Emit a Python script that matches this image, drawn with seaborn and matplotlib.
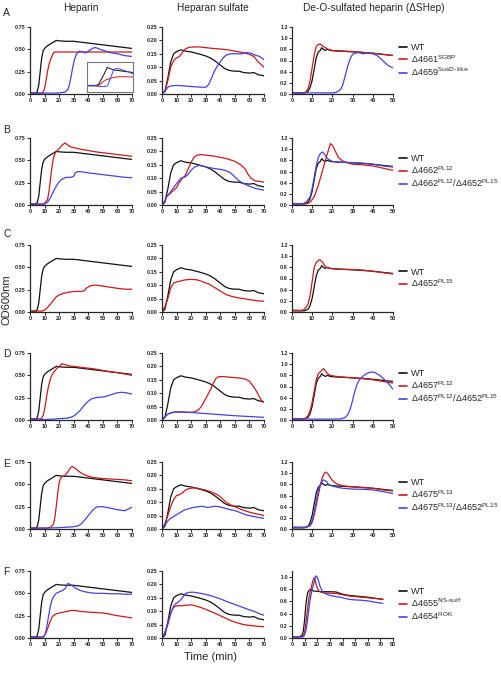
import matplotlib
matplotlib.use("Agg")
import matplotlib.pyplot as plt
import pandas as pd
import seaborn as sns
from matplotlib.ticker import FormatStrFormatter

sns.set_style("ticks")
plt.rcParams["font.family"] = ["Liberation Sans", "DejaVu Sans"]
plt.rcParams["mathtext.default"] = "regular"

# ---- data: (time in min, OD600) ----
# wild type curves, shared by rows A-E
wt_hep = [(0, 0.01), (4, 0.01), (5, 0.03), (6, 0.1), (7, 0.25), (8, 0.4), (9, 0.48), (10, 0.51), (12, 0.54),
          (14, 0.56), (16, 0.58), (18, 0.6), (20, 0.595), (25, 0.59), (30, 0.59), (35, 0.58), (40, 0.57),
          (45, 0.56), (50, 0.55), (55, 0.54), (60, 0.53), (65, 0.52), (70, 0.51)]
wt_hs = [(0, 0.0), (2, 0.01), (4, 0.06), (6, 0.12), (8, 0.15), (10, 0.158), (13, 0.165), (16, 0.16), (20, 0.157),
         (25, 0.15), (30, 0.142), (33, 0.135), (36, 0.125), (40, 0.108), (43, 0.095), (46, 0.088), (50, 0.085),
         (53, 0.085), (56, 0.08), (60, 0.078), (63, 0.08), (66, 0.072), (70, 0.068)]
wt_ds = [(0, 0.02), (6, 0.02), (8, 0.05), (9, 0.12), (10, 0.25), (11, 0.45), (12, 0.65), (13, 0.75), (14, 0.78),
         (14.7, 0.83), (15.5, 0.8), (16.5, 0.78), (17.5, 0.8), (19, 0.78), (22, 0.77), (25, 0.765), (30, 0.755),
         (35, 0.745), (40, 0.73), (45, 0.71), (50, 0.69)]
wt_ds_f = [(0, 0.02), (6, 0.02), (8, 0.05), (9, 0.12), (10, 0.3), (11, 0.55), (12, 0.7), (12.5, 0.75), (13.5, 0.78),
           (14.5, 0.8), (16, 0.78), (18, 0.77), (20, 0.765), (25, 0.76), (30, 0.76), (35, 0.755), (40, 0.72),
           (45, 0.7), (50, 0.69), (55, 0.68), (60, 0.67), (65, 0.655), (70, 0.64), (72, 0.635)]

# row A
a_hep_4661 = [(0, 0.01), (8, 0.01), (9, 0.02), (10, 0.06), (11, 0.15), (12, 0.25), (13, 0.33), (14, 0.38), (15, 0.42),
              (16, 0.46), (17, 0.47), (20, 0.47), (30, 0.47), (40, 0.47), (50, 0.47), (60, 0.47), (70, 0.47)]
a_hep_4659 = [(0, 0.01), (18, 0.01), (24, 0.02), (26, 0.05), (27, 0.1), (28, 0.18), (29, 0.27), (30, 0.35),
              (31, 0.41), (32, 0.45), (34, 0.48), (36, 0.47), (38, 0.46), (40, 0.48), (42, 0.5), (44, 0.52),
              (46, 0.515), (48, 0.5), (52, 0.48), (56, 0.46), (60, 0.45), (65, 0.43), (70, 0.42)]
a_hs_4661 = [(0, 0.0), (2, 0.01), (4, 0.05), (6, 0.1), (8, 0.125), (10, 0.135), (12, 0.14), (14, 0.155), (16, 0.168),
             (18, 0.173), (20, 0.175), (25, 0.176), (30, 0.173), (35, 0.17), (40, 0.168), (45, 0.165), (50, 0.16),
             (55, 0.155), (60, 0.148), (63, 0.14), (66, 0.12), (70, 0.1)]
a_hs_4659 = [(0, 0.0), (2, 0.01), (4, 0.025), (6, 0.03), (10, 0.032), (15, 0.03), (20, 0.028), (25, 0.026),
             (30, 0.025), (32, 0.035), (34, 0.06), (36, 0.085), (38, 0.105), (40, 0.12), (42, 0.135), (44, 0.145),
             (47, 0.15), (50, 0.15), (55, 0.15), (58, 0.155), (61, 0.152), (64, 0.145), (67, 0.14), (70, 0.128)]
a_ds_4661 = [(0, 0.02), (6, 0.02), (7, 0.04), (8, 0.1), (9, 0.25), (10, 0.48), (11, 0.7), (12, 0.85), (13, 0.89),
             (14, 0.89), (15, 0.87), (16, 0.84), (17, 0.82), (18, 0.8), (20, 0.78), (25, 0.77), (30, 0.76),
             (35, 0.745), (40, 0.73), (45, 0.71), (50, 0.69)]
a_ds_4659 = [(0, 0.02), (20, 0.02), (22, 0.03), (24, 0.08), (25, 0.15), (26, 0.28), (27, 0.42), (28, 0.55),
             (29, 0.65), (30, 0.71), (31, 0.73), (33, 0.74), (35, 0.72), (37, 0.73), (40, 0.72), (42, 0.69),
             (44, 0.63), (46, 0.56), (48, 0.5), (50, 0.47)]
# inset in panel A (arbitrary units)
inset_wt = [(0, 0.22), (20, 0.22), (25, 0.25), (32, 0.45), (38, 0.62), (44, 0.82), (50, 0.78), (60, 0.73),
            (70, 0.71), (80, 0.69), (90, 0.67), (100, 0.65)]
inset_4661 = [(0, 0.2), (20, 0.2), (25, 0.21), (32, 0.3), (40, 0.4), (50, 0.45), (60, 0.49), (70, 0.51),
              (80, 0.51), (100, 0.5)]
inset_4659 = [(0, 0.22), (15, 0.22), (22, 0.2), (30, 0.18), (40, 0.18), (45, 0.22), (52, 0.5), (58, 0.75),
              (64, 0.79), (72, 0.76), (80, 0.72), (90, 0.67), (100, 0.6)]

# row B
b_hep_4662 = [(0, 0.01), (9, 0.01), (10, 0.02), (12, 0.06), (13, 0.15), (14, 0.28), (15, 0.42), (16, 0.52),
              (17, 0.57), (18, 0.6), (20, 0.63), (22, 0.67), (24, 0.695), (26, 0.67), (28, 0.65), (32, 0.635),
              (36, 0.62), (40, 0.61), (45, 0.595), (50, 0.585), (55, 0.575), (60, 0.565), (65, 0.555), (70, 0.545)]
b_hep_dbl = [(0, 0.01), (10, 0.01), (12, 0.03), (14, 0.08), (16, 0.15), (18, 0.21), (20, 0.26), (22, 0.29),
             (25, 0.31), (28, 0.31), (30, 0.32), (31, 0.36), (33, 0.375), (36, 0.37), (40, 0.36), (45, 0.35),
             (50, 0.34), (55, 0.33), (60, 0.32), (65, 0.31), (70, 0.305)]
b_hs_4662 = [(0, 0.0), (2, 0.015), (3, 0.03), (5, 0.04), (8, 0.055), (10, 0.065), (12, 0.085), (14, 0.1), (16, 0.11),
             (18, 0.135), (20, 0.16), (22, 0.178), (24, 0.186), (27, 0.188), (30, 0.186), (35, 0.183), (40, 0.178),
             (45, 0.172), (50, 0.163), (54, 0.15), (57, 0.135), (59, 0.115), (61, 0.1), (64, 0.09), (67, 0.088),
             (70, 0.085)]
b_hs_dbl = [(0, 0.0), (2, 0.015), (3, 0.03), (6, 0.05), (10, 0.08), (13, 0.1), (16, 0.105), (18, 0.115), (20, 0.13),
            (22, 0.14), (25, 0.148), (28, 0.145), (32, 0.14), (36, 0.136), (40, 0.133), (44, 0.128), (47, 0.12),
            (50, 0.105), (53, 0.09), (56, 0.08), (60, 0.07), (64, 0.062), (70, 0.055)]
b_ds_4662 = [(0, 0.02), (7, 0.02), (9, 0.05), (11, 0.15), (13, 0.35), (15, 0.6), (16.5, 0.8), (18, 0.98), (19, 1.1),
             (20, 1.07), (21, 1.0), (22, 0.92), (23, 0.85), (25, 0.79), (27, 0.76), (30, 0.73), (35, 0.72),
             (40, 0.7), (45, 0.66), (50, 0.62)]
b_ds_dbl = [(0, 0.02), (5, 0.02), (7, 0.05), (9, 0.15), (10, 0.3), (11, 0.5), (12, 0.7), (13, 0.85), (14, 0.92),
            (15, 0.95), (16, 0.92), (17, 0.86), (18, 0.82), (20, 0.78), (25, 0.765), (30, 0.76), (35, 0.75),
            (40, 0.73), (45, 0.7), (50, 0.68)]

# row C
c_hep_4652 = [(0, 0.01), (8, 0.01), (10, 0.02), (12, 0.05), (14, 0.09), (16, 0.13), (18, 0.17), (20, 0.19),
              (23, 0.21), (26, 0.22), (30, 0.23), (35, 0.23), (37, 0.235), (39, 0.27), (41, 0.29), (43, 0.3),
              (46, 0.3), (50, 0.29), (54, 0.28), (58, 0.27), (62, 0.26), (66, 0.255), (70, 0.255)]
c_hs_4652 = [(0, 0.0), (2, 0.02), (4, 0.05), (6, 0.09), (8, 0.108), (10, 0.112), (13, 0.116), (16, 0.12),
             (20, 0.122), (24, 0.12), (27, 0.115), (30, 0.108), (32, 0.105), (35, 0.095), (38, 0.085), (41, 0.075),
             (44, 0.065), (48, 0.058), (52, 0.053), (56, 0.05), (60, 0.046), (65, 0.042), (70, 0.04)]
c_ds_4652 = [(0, 0.03), (5, 0.03), (6, 0.05), (7, 0.08), (8, 0.15), (9, 0.3), (10, 0.55), (11, 0.8), (12, 0.89),
             (13, 0.92), (13.7, 0.94), (15, 0.9), (16, 0.84), (17, 0.8), (19, 0.78), (22, 0.77), (25, 0.765),
             (30, 0.76), (35, 0.75), (40, 0.73), (45, 0.705), (50, 0.68)]

# row D
d_hep_4657 = [(0, 0.01), (7, 0.01), (8, 0.02), (9, 0.05), (10, 0.12), (11, 0.22), (12, 0.32), (13, 0.4), (14, 0.46),
              (15, 0.5), (16, 0.53), (18, 0.57), (20, 0.6), (22, 0.63), (24, 0.62), (27, 0.605), (30, 0.6),
              (35, 0.59), (40, 0.58), (45, 0.57), (50, 0.555), (55, 0.54), (60, 0.53), (65, 0.515), (70, 0.5)]
d_hep_dbl = [(0, 0.01), (5, 0.01), (10, 0.005), (15, 0.008), (20, 0.015), (25, 0.02), (28, 0.03), (30, 0.045),
             (32, 0.07), (34, 0.1), (36, 0.14), (38, 0.18), (40, 0.21), (42, 0.235), (45, 0.25), (48, 0.255),
             (51, 0.26), (54, 0.275), (57, 0.29), (60, 0.305), (63, 0.31), (66, 0.305), (70, 0.29)]
d_hs_4657 = [(0, 0.0), (2, 0.012), (4, 0.022), (7, 0.028), (10, 0.03), (14, 0.03), (18, 0.028), (22, 0.03),
             (25, 0.038), (27, 0.05), (29, 0.07), (31, 0.09), (33, 0.11), (35, 0.135), (37, 0.155), (39, 0.162),
             (42, 0.162), (46, 0.16), (50, 0.158), (54, 0.156), (57, 0.153), (60, 0.145), (62, 0.13), (64, 0.115),
             (66, 0.095), (68, 0.075), (70, 0.065)]
d_hs_dbl = [(0, 0.0), (2, 0.012), (4, 0.022), (7, 0.028), (10, 0.03), (15, 0.03), (20, 0.028), (30, 0.024),
            (40, 0.02), (50, 0.016), (60, 0.013), (70, 0.01)]
d_ds_4657 = [(0, 0.02), (6, 0.02), (7, 0.04), (8, 0.08), (9, 0.17), (10, 0.32), (11, 0.52), (12, 0.72), (13, 0.83),
             (14, 0.86), (15, 0.9), (15.7, 0.92), (16.5, 0.88), (17.5, 0.83), (19, 0.8), (22, 0.78), (25, 0.77),
             (30, 0.755), (35, 0.74), (40, 0.72), (45, 0.69), (50, 0.66)]
d_ds_dbl = [(0, 0.02), (10, 0.015), (20, 0.015), (24, 0.02), (26, 0.04), (27, 0.07), (28, 0.12), (29, 0.22),
            (30, 0.35), (31, 0.5), (32, 0.62), (33, 0.7), (34, 0.75), (36, 0.81), (38, 0.85), (39.5, 0.86),
            (41, 0.85), (43, 0.81), (45, 0.75), (47, 0.68), (49, 0.6), (50, 0.55)]

# row E
e_hep_4675 = [(0, 0.01), (12, 0.01), (14, 0.02), (16, 0.05), (17, 0.12), (18, 0.25), (19, 0.4), (20, 0.52),
              (21, 0.57), (22, 0.585), (24, 0.6), (26, 0.64), (28, 0.69), (29, 0.7), (31, 0.68), (34, 0.64),
              (37, 0.61), (40, 0.59), (44, 0.575), (50, 0.565), (55, 0.56), (60, 0.555), (65, 0.55), (70, 0.54)]
e_hep_dbl = [(0, 0.01), (10, 0.01), (20, 0.015), (25, 0.02), (30, 0.025), (33, 0.035), (35, 0.055), (37, 0.09),
             (39, 0.13), (41, 0.17), (43, 0.21), (45, 0.24), (47, 0.25), (50, 0.25), (53, 0.24), (56, 0.23),
             (59, 0.22), (62, 0.21), (65, 0.205), (67, 0.22), (70, 0.245)]
e_hs_4675 = [(0, 0.0), (2, 0.02), (4, 0.05), (6, 0.085), (8, 0.11), (10, 0.125), (12, 0.128), (14, 0.135),
             (16, 0.145), (18, 0.15), (20, 0.152), (23, 0.154), (26, 0.15), (30, 0.145), (34, 0.138), (38, 0.128),
             (40, 0.12), (42, 0.11), (44, 0.1), (47, 0.09), (50, 0.083), (54, 0.074), (58, 0.066), (62, 0.06),
             (66, 0.055), (70, 0.05)]
e_hs_dbl = [(0, 0.0), (2, 0.015), (4, 0.03), (6, 0.04), (9, 0.05), (12, 0.06), (15, 0.07), (18, 0.075), (21, 0.08),
            (25, 0.083), (28, 0.085), (31, 0.08), (34, 0.083), (37, 0.085), (40, 0.082), (43, 0.078), (46, 0.073),
            (49, 0.07), (52, 0.065), (55, 0.058), (58, 0.052), (62, 0.048), (66, 0.043), (70, 0.04)]
e_ds_4675 = [(0, 0.03), (7, 0.03), (9, 0.06), (10, 0.12), (11, 0.25), (12, 0.42), (13, 0.6), (14, 0.78), (15, 0.92),
             (16, 1.0), (16.8, 1.02), (18, 0.98), (19, 0.92), (20, 0.87), (22, 0.81), (25, 0.775), (30, 0.755),
             (35, 0.74), (40, 0.73), (45, 0.7), (50, 0.68)]
e_ds_dbl = [(0, 0.03), (7, 0.03), (9, 0.07), (10, 0.15), (11, 0.3), (12, 0.5), (13, 0.68), (14, 0.8), (15, 0.86),
            (15.8, 0.88), (17, 0.85), (18, 0.8), (20, 0.77), (22, 0.75), (25, 0.73), (30, 0.715), (35, 0.71),
            (40, 0.7), (45, 0.67), (50, 0.635)]

# row F
f_hep_4655 = [(0, 0.01), (9, 0.01), (10, 0.03), (11, 0.06), (12, 0.1), (13, 0.15), (14, 0.19), (15, 0.23),
              (16, 0.25), (18, 0.27), (20, 0.28), (23, 0.29), (26, 0.3), (29, 0.31), (32, 0.305), (36, 0.295),
              (40, 0.29), (45, 0.285), (50, 0.28), (54, 0.27), (58, 0.255), (62, 0.245), (66, 0.235), (70, 0.225)]
f_hep_4654 = [(0, 0.01), (9, 0.01), (10, 0.03), (11, 0.08), (12, 0.17), (13, 0.27), (14, 0.36), (15, 0.42),
              (16, 0.46), (18, 0.5), (20, 0.515), (22, 0.53), (24, 0.55), (25, 0.58), (26, 0.61), (27, 0.605),
              (29, 0.585), (31, 0.56), (34, 0.535), (37, 0.52), (40, 0.51), (45, 0.5), (50, 0.5), (55, 0.495),
              (60, 0.495), (65, 0.49), (70, 0.49)]
f_hs_4655 = [(0, 0.0), (2, 0.02), (4, 0.055), (6, 0.095), (8, 0.115), (10, 0.12), (13, 0.12), (16, 0.122),
             (20, 0.124), (23, 0.12), (26, 0.115), (30, 0.107), (33, 0.1), (36, 0.093), (40, 0.083), (44, 0.073),
             (48, 0.063), (52, 0.056), (56, 0.05), (60, 0.047), (65, 0.044), (70, 0.042)]
f_hs_4654 = [(0, 0.0), (2, 0.02), (4, 0.05), (6, 0.09), (8, 0.12), (10, 0.13), (12, 0.138), (14, 0.15), (16, 0.165),
             (18, 0.17), (21, 0.171), (25, 0.168), (30, 0.163), (35, 0.155), (40, 0.146), (45, 0.135), (50, 0.125),
             (55, 0.115), (60, 0.105), (64, 0.098), (67, 0.09), (70, 0.085)]
f_ds_4655 = [(0, 0.02), (8, 0.02), (9, 0.04), (10, 0.1), (11, 0.25), (12, 0.42), (13, 0.6), (14, 0.72), (15, 0.8),
             (16, 0.9), (17, 0.97), (17.7, 0.99), (18.5, 0.93), (19.5, 0.85), (21, 0.78), (23, 0.75), (26, 0.74),
             (30, 0.735), (35, 0.73), (40, 0.71), (45, 0.69), (50, 0.68), (55, 0.67), (60, 0.66), (65, 0.65),
             (70, 0.64), (72, 0.635)]
f_ds_4654 = [(0, 0.02), (9, 0.02), (10, 0.05), (11, 0.12), (12, 0.25), (13, 0.42), (14, 0.58), (15, 0.7), (16, 0.8),
             (17, 0.87), (18, 0.96), (19, 1.02), (20, 1.0), (21, 0.94), (22, 0.86), (24, 0.77), (26, 0.73),
             (30, 0.7), (35, 0.68), (40, 0.66), (45, 0.635), (50, 0.625), (55, 0.62), (60, 0.61), (65, 0.59),
             (70, 0.575), (72, 0.57)]

row_letters = ["A", "B", "C", "D", "E", "F"]
col_titles = ["Heparin", "Heparan sulfate", "De-O-sulfated heparin (\u0394SHep)"]
legend_labels = [
    ["WT", "\u03944661$^{SGBP}$", "\u03944659$^{\\text{SusD-like}}$"],
    ["WT", "\u03944662$^{PL12}$", "\u03944662$^{PL12}$/\u03944652$^{PL15}$"],
    ["WT", "\u03944652$^{PL15}$"],
    ["WT", "\u03944657$^{PL12}$", "\u03944657$^{PL12}$/\u03944652$^{PL15}$"],
    ["WT", "\u03944675$^{PL13}$", "\u03944675$^{PL13}$/\u03944652$^{PL15}$"],
    ["WT", "\u03944655$^{\\text{NS-sulf}}$", "\u03944654$^{ROK}$"],
]
panel_series = [
    [[wt_hep, a_hep_4661, a_hep_4659], [wt_hs, a_hs_4661, a_hs_4659], [wt_ds, a_ds_4661, a_ds_4659]],
    [[wt_hep, b_hep_4662, b_hep_dbl], [wt_hs, b_hs_4662, b_hs_dbl], [wt_ds, b_ds_4662, b_ds_dbl]],
    [[wt_hep, c_hep_4652], [wt_hs, c_hs_4652], [wt_ds, c_ds_4652]],
    [[wt_hep, d_hep_4657, d_hep_dbl], [wt_hs, d_hs_4657, d_hs_dbl], [wt_ds, d_ds_4657, d_ds_dbl]],
    [[wt_hep, e_hep_4675, e_hep_dbl], [wt_hs, e_hs_4675, e_hs_dbl], [wt_ds, e_ds_4675, e_ds_dbl]],
    [[wt_hep, f_hep_4655, f_hep_4654], [wt_hs, f_hs_4655, f_hs_4654], [wt_ds_f, f_ds_4655, f_ds_4654]],
]

COLORS = ["#111111", "#cc1a1a", "#4343e0"]
W, H = 501, 673
COL_LEFT = [30, 162, 292]
COL_W = [102, 102, 101]
ROW_TOP = [27, 138, 245, 353, 462, 571]
ROW_H = 67


def long_frame(series_list, labels):
    parts = []
    for lab, pts in zip(labels, series_list):
        d = pd.DataFrame(pts, columns=["time", "od"])
        d["strain"] = lab
        parts.append(d)
    return pd.concat(parts, ignore_index=True)


def style_axis(ax):
    sns.despine(ax=ax)
    for s in ("left", "bottom"):
        ax.spines[s].set_linewidth(0.9)
    ax.tick_params(axis="both", labelsize=4, length=2, width=0.7, pad=1)
    for t in ax.get_xticklabels() + ax.get_yticklabels():
        t.set_fontweight("bold")


fig = plt.figure(figsize=(W / 100, H / 100), dpi=100)

for r in range(6):
    for c in range(3):
        ax = fig.add_axes([COL_LEFT[c] / W, 1 - (ROW_TOP[r] + ROW_H) / H, COL_W[c] / W, ROW_H / H])
        labs = legend_labels[r]
        df = long_frame(panel_series[r][c], labs)
        sns.lineplot(data=df, x="time", y="od", hue="strain", hue_order=labs,
                     palette=COLORS[:len(labs)], estimator=None, linewidth=0.9,
                     legend=False, ax=ax)
        ax.set_xlabel("")
        ax.set_ylabel("")
        if c == 0:
            ax.set_xlim(0, 70)
            ax.set_xticks(range(0, 71, 10))
            ax.set_ylim(0, 0.75)
            ax.set_yticks([0, 0.25, 0.5, 0.75])
            ax.yaxis.set_major_formatter(FormatStrFormatter("%.2f"))
        elif c == 1:
            ax.set_xlim(0, 70)
            ax.set_xticks(range(0, 71, 10))
            ax.set_ylim(0, 0.25)
            ax.set_yticks([0, 0.05, 0.1, 0.15, 0.2, 0.25])
            ax.yaxis.set_major_formatter(FormatStrFormatter("%.2f"))
        else:
            if r == 5:
                ax.set_xlim(0, 80)
                ax.set_xticks(range(0, 81, 10))
                ax.set_ylim(0, 1.1)
                ax.set_yticks([0, 0.2, 0.4, 0.6, 0.8, 1.0])
            else:
                ax.set_xlim(0, 50)
                ax.set_xticks(range(0, 51, 10))
                ax.set_ylim(0, 1.2)
                ax.set_yticks([0, 0.2, 0.4, 0.6, 0.8, 1.0, 1.2])
            ax.yaxis.set_major_formatter(FormatStrFormatter("%.1f"))
            leg = ax.legend(handles=ax.get_lines()[:len(labs)], labels=labs,
                            loc="center left", bbox_to_anchor=(1.06, 0.5), frameon=False,
                            fontsize=6.6, handlelength=0.9, handletextpad=0.35,
                            labelspacing=0.12, borderpad=0, borderaxespad=0)
            for ln in leg.get_lines():
                ln.set_linewidth(1.2)
        style_axis(ax)

        # inset in the heparin panel of row A
        if r == 0 and c == 0:
            ins = fig.add_axes([87 / W, 1 - 92 / H, 46 / W, 30 / H])
            idf = long_frame([inset_wt, inset_4661, inset_4659], labs)
            sns.lineplot(data=idf, x="time", y="od", hue="strain", hue_order=labs,
                         palette=COLORS, estimator=None, linewidth=0.7, legend=False, ax=ins)
            ins.set_xlim(0, 100)
            ins.set_ylim(0, 1)
            ins.set_xticks([])
            ins.set_yticks([])
            ins.set_xlabel("")
            ins.set_ylabel("")
            for s in ins.spines.values():
                s.set_edgecolor("#777777")
                s.set_linewidth(0.8)

    fig.text(3 / W, 1 - ([13, 130, 234, 354, 464, 572][r]) / H, row_letters[r],
             fontsize=7.5, ha="left", va="center")

title_x = [81, 213, 374]
for x, t in zip(title_x, col_titles):
    fig.text(x / W, 1 - 8 / H, t, fontsize=7.3, ha="center", va="center")

fig.text(7 / W, 1 - 300 / H, "OD600nm", rotation=90, fontsize=8, ha="center", va="center")
fig.text(210 / W, 1 - 657 / H, "Time (min)", fontsize=8, ha="center", va="center")

fig.savefig("out.png", dpi=100)
